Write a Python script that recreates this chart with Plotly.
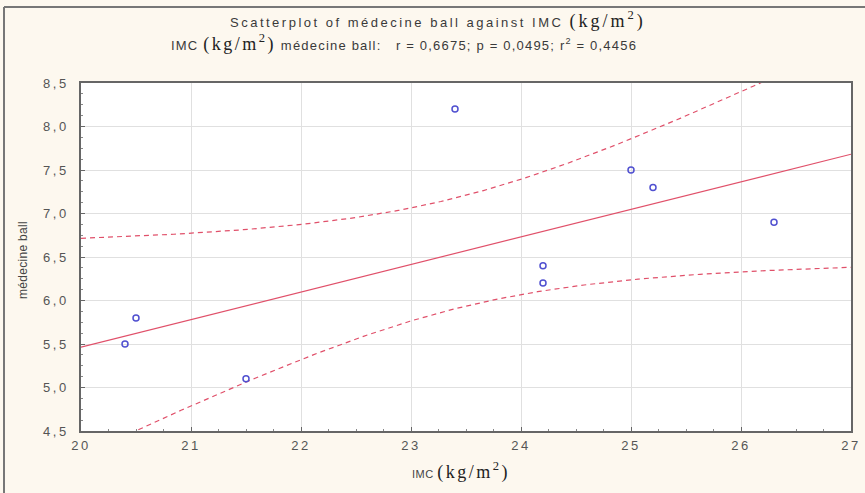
import numpy as np
import plotly.graph_objects as go

# Data
imc = [20.4, 20.5, 21.5, 23.4, 24.2, 24.2, 25.0, 25.2, 26.3]
medecine_ball = [5.5, 5.8, 5.1, 8.2, 6.4, 6.2, 7.5, 7.3, 6.9]
x_ticks = [20, 21, 22, 23, 24, 25, 26, 27]
y_ticks = [4.5, 5.0, 5.5, 6.0, 6.5, 7.0, 7.5, 8.0, 8.5]

# Linear regression with 95% confidence band (derived from the data)
x = np.array(imc)
y = np.array(medecine_ball)
n = len(x)
slope, intercept = np.polyfit(x, y, 1)
resid = y - (intercept + slope * x)
s = np.sqrt(np.sum(resid ** 2) / (n - 2))
t_crit = 2.3646  # t(0.975, df=7)
xs = np.linspace(x_ticks[0], x_ticks[-1], 200)
fit = intercept + slope * xs
se = s * np.sqrt(1 / n + (xs - x.mean()) ** 2 / np.sum((x - x.mean()) ** 2))
upper = fit + t_crit * se
lower = fit - t_crit * se

line_col = "#E0506A"
fig = go.Figure()
fig.add_trace(go.Scatter(x=xs, y=upper, mode="lines",
                         line=dict(color=line_col, width=1.2, dash="5px,4px"), hoverinfo="skip"))
fig.add_trace(go.Scatter(x=xs, y=lower, mode="lines",
                         line=dict(color=line_col, width=1.2, dash="5px,4px"), hoverinfo="skip"))
fig.add_trace(go.Scatter(x=xs, y=fit, mode="lines",
                         line=dict(color=line_col, width=1.2), hoverinfo="skip"))
fig.add_trace(go.Scatter(x=imc, y=medecine_ball, mode="markers",
                         marker=dict(symbol="circle-open", size=6, color="#5050D0",
                                     line=dict(width=1.5, color="#5050D0"))))

W, H = 865, 493
ml, mr, mt, mb = 81, 14, 83, 62
pw, ph = W - ml - mr, H - mt - mb

def px(xp):
    return (xp - ml) / pw

def py(yp):
    return (H - mb - yp) / ph

SANS = "Liberation Sans, Arial, sans-serif"

def sans(t, size=13, ls=2.5):
    return f"<span style=\"font-size:{size}px;letter-spacing:{ls}px\">{t}</span>"

def unit(size=18, ls=3):
    return (f"<span style=\"font-family:'Liberation Serif','DejaVu Serif',serif;"
            f"font-size:{size}px;letter-spacing:{ls}px;color:#222\">(kg/m<sup>2</sup>)</span>")

annotations = [
    dict(text=sans("Scatterplot of médecine ball against IMC ") + unit(),
         x=px(438), y=py(20), xref="paper", yref="paper", showarrow=False,
         xanchor="center", yanchor="middle",
         font=dict(family=SANS, size=13, color="#3a3a3a")),
    dict(text=sans("IMC ", 13, 1.2) + unit(18, 2.5)
         + sans(" médecine ball:   r = 0,6675; p = 0,0495; r<sup>2</sup> = 0,4456", 13, 1.2),
         x=px(404), y=py(43), xref="paper", yref="paper", showarrow=False,
         xanchor="center", yanchor="middle",
         font=dict(family=SANS, size=13, color="#3a3a3a")),
    dict(text=sans("IMC ", 11, 0.5) + unit(18, 2.5),
         x=px(461), y=py(471), xref="paper", yref="paper", showarrow=False,
         xanchor="center", yanchor="middle",
         font=dict(family=SANS, size=11, color="#444")),
    dict(text=sans("médecine ball", 12, 0.3), textangle=-90,
         x=px(23), y=py(260), xref="paper", yref="paper", showarrow=False,
         xanchor="center", yanchor="middle",
         font=dict(family=SANS, size=12, color="#444")),
]

shapes = [
    dict(type="line", xref="paper", yref="paper", x0=px(4), x1=px(4), y0=py(H), y1=py(7),
         line=dict(color="#777", width=2)),
    dict(type="line", xref="paper", yref="paper", x0=px(4), x1=px(W), y0=py(7), y1=py(7),
         line=dict(color="#777", width=2)),
]

x_text = [sans(str(v), 13, 2.5) for v in x_ticks]
y_text = [sans(f"{v:.1f}".replace(".", ","), 13, 2.5) for v in y_ticks]

axis_font = dict(family=SANS, size=13, color="#555")
fig.update_layout(
    width=W, height=H,
    margin=dict(l=ml, r=mr, t=mt, b=mb, autoexpand=False),
    paper_bgcolor="#FDF8EF",
    plot_bgcolor="#FFFFFF",
    showlegend=False,
    separators=",.",
    annotations=annotations,
    shapes=shapes,
    xaxis=dict(range=[x_ticks[0], x_ticks[-1]], tickvals=x_ticks, ticktext=x_text, automargin=False,
               showgrid=True, gridcolor="#E0E0E0", gridwidth=1, zeroline=False,
               showline=True, linecolor="#666", linewidth=1.5, mirror=True,
               ticks="inside", ticklen=4, tickcolor="#666", ticklabelstandoff=2,
               minor=dict(ticks="inside", ticklen=2, tickcolor="#888", dtick=0.25, showgrid=False),
               tickfont=axis_font),
    yaxis=dict(range=[y_ticks[0], y_ticks[-1]], tickvals=y_ticks, ticktext=y_text, automargin=False,
               showgrid=True, gridcolor="#E0E0E0", gridwidth=1, zeroline=False,
               showline=True, linecolor="#666", linewidth=1.5, mirror=True,
               ticks="inside", ticklen=4, tickcolor="#666", ticklabelstandoff=8,
               minor=dict(ticks="inside", ticklen=2, tickcolor="#888", dtick=0.125, showgrid=False),
               tickfont=axis_font),
)

fig.write_html("out.html")
